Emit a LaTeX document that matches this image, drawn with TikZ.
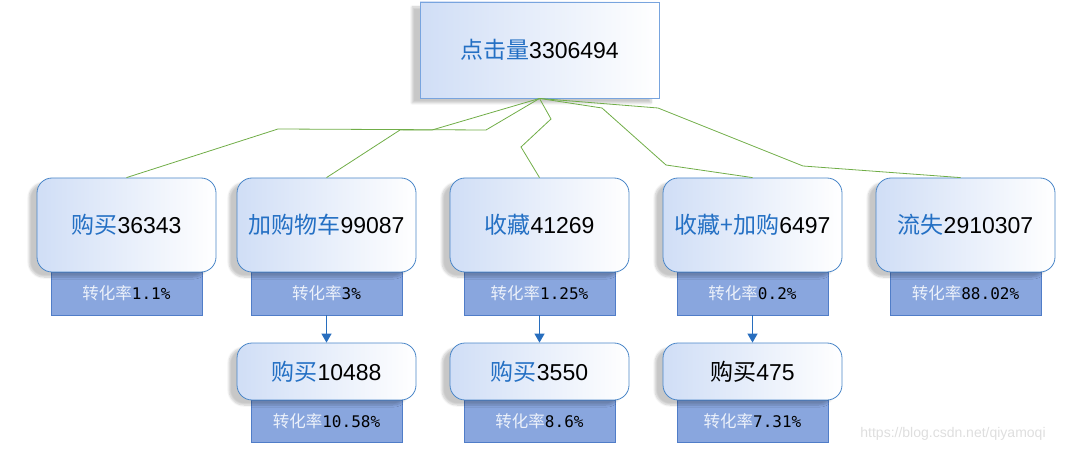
\documentclass[tikz,border=0pt]{standalone}
\usepackage{fontspec}
\setmainfont{Liberation Sans}
\setmonofont{DejaVu Sans Mono}
\newfontfamily\cjk{Noto Sans CJK SC}
\usetikzlibrary{arrows.meta,shadows.blur}
\definecolor{boxblue}{RGB}{74,134,200}
\definecolor{topblue}{RGB}{120,164,222}
\definecolor{paleblue}{RGB}{208,222,246}
\definecolor{cjkblue}{RGB}{36,112,196}
\definecolor{ratefill}{RGB}{137,166,222}
\definecolor{rateedge}{RGB}{80,125,200}
\definecolor{ratetext}{RGB}{236,241,250}
\definecolor{linkgreen}{RGB}{112,173,71}
\definecolor{arrowblue}{RGB}{40,110,190}
\tikzset{
  softshadow/.style={blur shadow={shadow xshift=-8pt,shadow yshift=-5pt,shadow blur steps=8,shadow opacity=22}},
  topbox/.style={draw=topblue,line width=0.9pt,left color=paleblue,right color=white,
    minimum width=239pt,minimum height=96pt,inner sep=0pt,softshadow},
  catbox/.style={draw=boxblue,line width=0.8pt,rounded corners=15pt,left color=paleblue,right color=white,
    minimum width=179pt,minimum height=94pt,inner sep=0pt,softshadow},
  subbox/.style={catbox,minimum height=57pt},
  ratebox/.style={draw=rateedge,line width=0.8pt,fill=ratefill,minimum width=151pt,minimum height=43pt,inner sep=0pt},
  link/.style={draw=linkgreen,line width=0.8pt},
  down/.style={draw=arrowblue,line width=1.2pt,-{Triangle[width=10pt,length=9pt]}},
}
\newcommand{\bigtxt}[2]{\fontsize{23}{27}\selectfont{\cjk\color{cjkblue}#1}#2}
\newcommand{\blacktxt}[2]{\fontsize{23}{27}\selectfont{\cjk #1}#2}
\newcommand{\ratetxt}[1]{\fontsize{16.5}{19}\selectfont{\cjk\color{ratetext}转化率}{\ttfamily\fontsize{16}{19}\selectfont #1}}
\begin{document}
\begin{tikzpicture}[x=1pt,y=-1pt]
\useasboundingbox (0,0) rectangle (1067,454);

% rate boxes (drawn first, behind the rounded boxes)
\node[ratebox] (r1) at (126.5,293.5) {\ratetxt{1.1\%}};
\node[ratebox] (r2) at (326.5,293.5) {\ratetxt{3\%}};
\node[ratebox] (r3) at (539.5,293.5) {\ratetxt{1.25\%}};
\node[ratebox] (r4) at (752.5,293.5) {\ratetxt{0.2\%}};
\node[ratebox] (r5) at (965.5,293.5) {\ratetxt{88.02\%}};
\node[ratebox,minimum height=42pt] (s2) at (326.5,421) {\ratetxt{10.58\%}};
\node[ratebox,minimum height=42pt] (s3) at (539.5,421) {\ratetxt{8.6\%}};
\node[ratebox,minimum height=42pt] (s4) at (752.5,421) {\ratetxt{7.31\%}};

% main boxes
\node[topbox] (top) at (539.5,50) {\bigtxt{点击量}{3306494}};
\node[catbox] (b1) at (126.5,225) {\bigtxt{购买}{36343}};
\node[catbox] (b2) at (326.5,225) {\bigtxt{加购物车}{99087}};
\node[catbox] (b3) at (539.5,225) {\bigtxt{收藏}{41269}};
\node[catbox] (b4) at (752.5,225) {\bigtxt{收藏+加购}{6497}};
\node[catbox] (b5) at (965.5,225) {\bigtxt{流失}{2910307}};
\node[subbox] (c2) at (326.5,371.5) {\bigtxt{购买}{10488}};
\node[subbox] (c3) at (539.5,371.5) {\bigtxt{购买}{3550}};
\node[subbox] (c4) at (752.5,371.5) {\blacktxt{购买}{475}};

% green connectors
\draw[link] (top.south) -- (486,130) -- (278,129) -- (b1.north);
\draw[link] (top.south) -- (432,130) -- (400,130) -- (b2.north);
\draw[link] (top.south) -- (551,119) -- (521,147) -- (b3.north);
\draw[link] (top.south) -- (602,108) -- (666,165) -- (b4.north);
\draw[link] (top.south) -- (658,108) -- (803,166) -- ([xshift=-5pt]b5.north);

% arrows
\draw[down] (r2.south) -- (c2.north);
\draw[down] (r3.south) -- (c3.north);
\draw[down] (r4.south) -- (c4.north);

% watermark
\node[text=black!13,font=\fontsize{14}{16}\selectfont] (wm) at (953,434) {https://blog.csdn.net/qiyamoqi};
\end{tikzpicture}
\end{document}
